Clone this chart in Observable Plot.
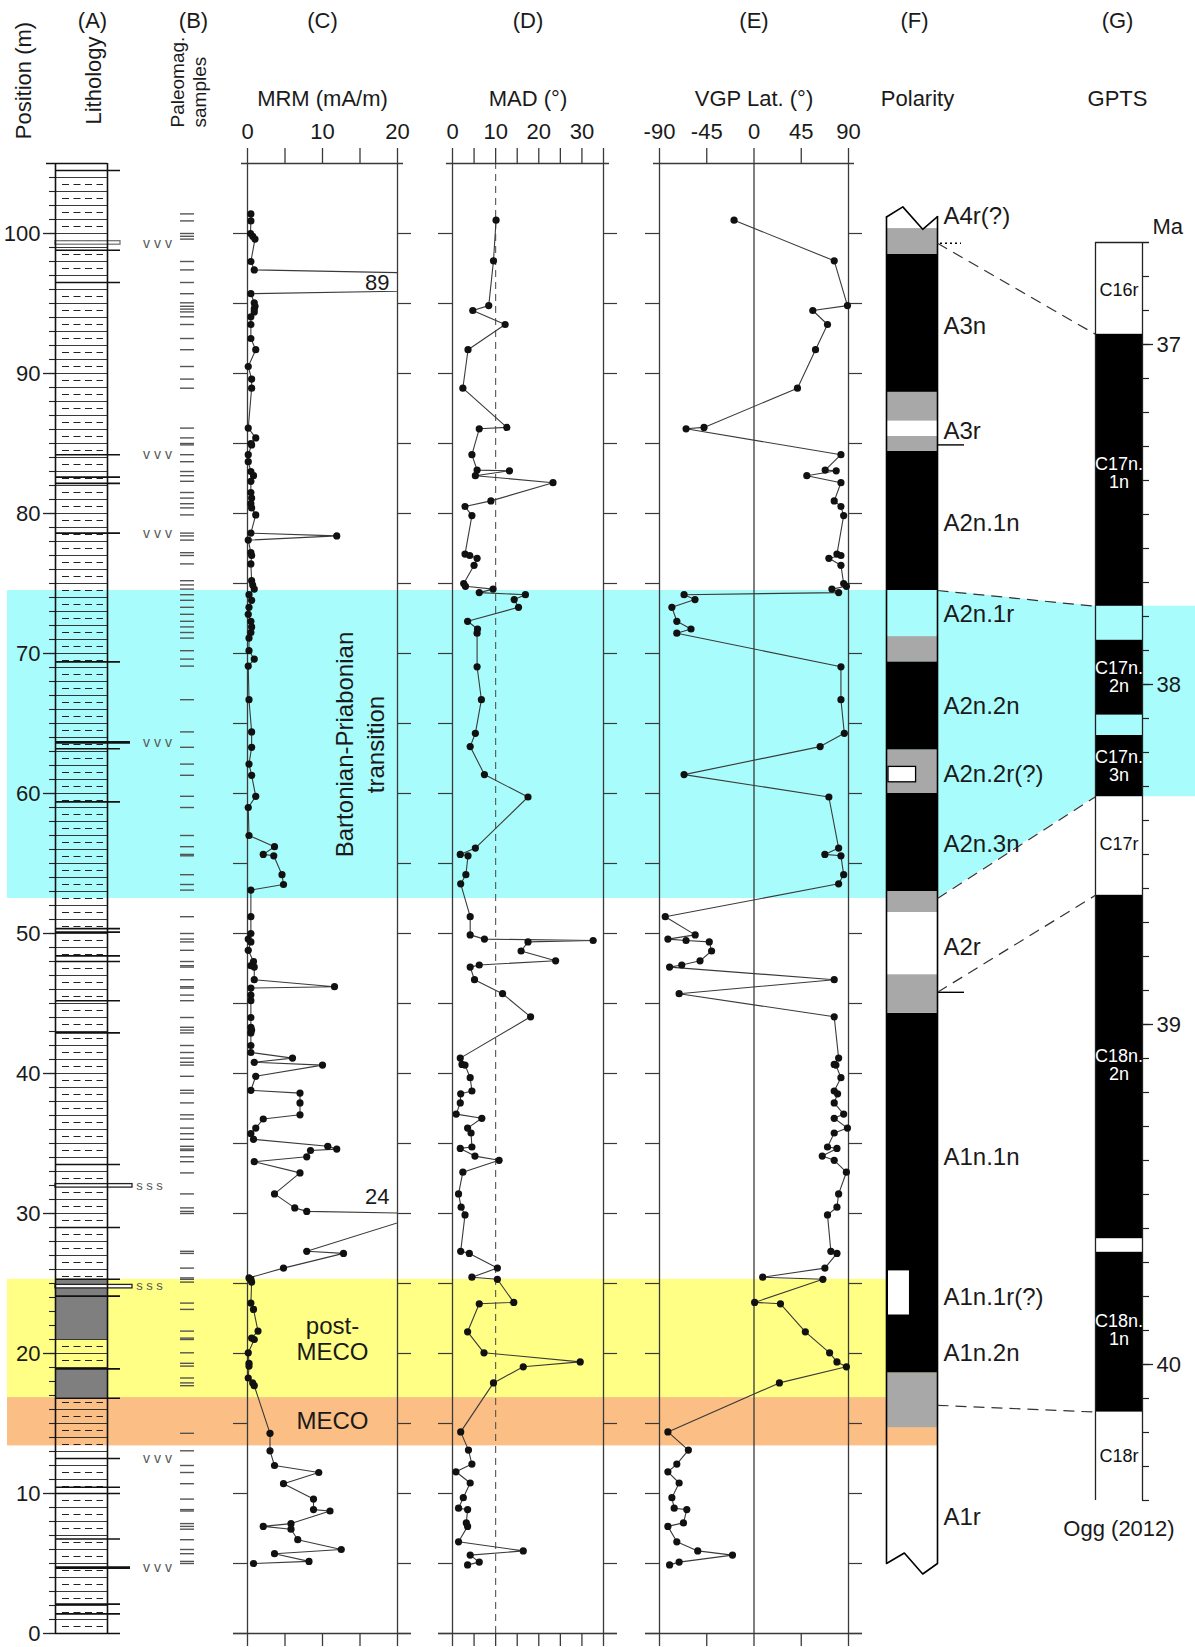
<!DOCTYPE html>
<html><head><meta charset="utf-8">
<script src="https://cdn.jsdelivr.net/npm/d3@7"></script>
<script src="https://cdn.jsdelivr.net/npm/@observablehq/plot@0.6"></script>
<style>
body{margin:0;background:#fff;}
#chart{position:relative;width:1195px;height:1647px;overflow:hidden;}
</style></head><body><div id="chart"></div>
<script>
// ---------------- DATA ----------------
// MRM (mA/m) by stratigraphic position (m)
const mrmDepth = [101.4,100.9,100.0,99.8,99.6,98.0,97.4,96.5,95.7,95.05,
94.8,94.6,94.4,94.05,93.5,92.5,91.7,90.5,89.6,88.95,
86.1,85.4,85.0,84.9,84.2,83.7,83.0,82.7,82.3,81.5,
81.1,80.7,80.4,79.9,78.6,78.4,78.1,77.2,77.0,76.4,
75.2,74.9,74.6,74.2,73.8,73.3,72.8,72.3,71.9,71.5,
71.1,70.2,69.6,69.1,66.7,64.4,63.3,62.1,61.3,59.8,
59.0,57.0,56.2,55.65,55.55,54.2,53.5,53.1,51.2,50.0,
49.6,49.4,48.8,48.0,47.7,47.6,46.7,46.2,46.1,45.6,
45.2,44.0,43.3,43.1,42.9,42.0,41.5,41.1,40.8,40.6,
39.8,38.8,38.6,37.9,37.05,36.75,36.1,35.7,35.3,34.8,
34.6,34.5,34.05,33.7,32.9,31.4,30.4,30.15,30.0,27.3,
27.15,26.1,25.4,25.3,25.1,23.6,23.15,21.6,21.1,21.0,
20.05,19.3,19.1,18.25,17.9,17.7,14.3,13.05,12.0,11.5,
10.7,9.6,8.85,8.75,7.85,7.65,7.45,6.7,6.0,5.7,
5.15,5.0];
const mrmValue = [0.45,0.45,0.4,0.7,1.0,0.45,0.9,89,0.45,0.9,
1.0,0.9,0.9,0.45,0.45,0.45,1.1,0.1,0.55,0.55,
0.1,1.1,0.45,0.55,0.1,0.1,0.45,0.8,0.45,0.45,
0.55,0.45,0.55,1.1,0.45,11.9,0.1,0.45,0.55,0.45,
0.55,0.7,0.9,0.2,0.55,0.2,0.1,0.45,0.55,0.45,
0.2,0.2,0.9,0.1,0.2,0.55,0.55,0.2,0.55,1.1,
0.1,0.2,3.6,2.1,3.5,4.6,4.8,0.45,0.45,0.45,
0.1,0.45,0.1,0.8,0.45,0.9,0.9,11.6,0.45,0.45,
0.45,0.45,0.45,0.55,0.45,0.45,0.45,6.0,0.9,10.0,
1.1,0.45,7.0,7.0,7.0,2.1,1.1,0.45,0.8,10.7,
11.9,8.4,7.9,0.9,7.0,3.6,6.3,7.9,24,7.9,
12.8,4.8,0.2,0.45,0.55,0.45,0.8,1.4,0.55,0.9,
0.1,0.2,0.2,0.1,0.7,0.9,3.0,3.0,3.6,9.5,
4.8,8.8,8.8,11.0,5.8,2.1,5.8,6.7,12.5,3.6,
8.2,0.8];

// Directional results: MAD (deg) and VGP latitude (deg)
const dirDepth = [100.95,98.05,94.85,94.5,93.5,91.7,88.95,86.15,86.05,84.2,
83.1,83.05,82.7,82.2,80.9,80.5,79.85,77.1,77.0,76.8,
76.3,75.0,74.8,74.6,74.35,74.2,73.85,73.3,72.3,71.75,
71.45,69.05,66.7,64.3,63.35,61.35,59.75,56.1,55.65,55.55,
54.2,53.55,51.2,49.9,49.6,49.5,49.4,48.75,48.05,47.75,
47.6,46.7,45.7,44.05,41.1,40.65,40.6,39.7,38.75,38.55,
37.9,37.1,36.8,36.1,35.75,34.75,34.65,34.1,33.8,32.95,
31.4,30.45,29.9,27.3,27.15,26.1,25.45,25.3,23.65,23.55,
21.55,20.05,19.4,19.05,17.9,14.4,13.1,12.1,11.55,10.75,
9.7,8.95,8.85,7.9,7.65,6.55,5.9,5.6,5.1,4.9];
const madValue = [10.1,9.5,8.4,4.7,12.2,3.6,2.4,12.6,6.2,4.5,
5.7,13.2,5.3,23.3,8.9,2.9,4.5,2.9,4.0,5.7,
5.0,2.6,3.0,9.4,6.2,16.9,14.3,15.3,3.5,5.8,
5.7,5.7,6.7,5.3,4.1,7.4,17.5,5.3,1.8,3.6,
3.1,1.9,4.1,4.1,7.4,32.6,17.5,15.9,23.9,6.2,
4.1,5.1,11.6,18.1,1.8,2.2,2.9,4.1,4.5,1.9,
1.8,0.85,6.8,3.5,4.3,4.5,1.8,5.2,10.8,2.4,
1.4,2.0,2.9,1.9,3.9,10.4,4.5,10.4,14.2,6.2,
3.5,7.3,29.6,16.4,9.5,1.9,3.7,4.5,0.8,4.1,
2.5,1.4,3.5,3.2,3.5,1.4,16.4,4.1,6.2,3.5];
const vgpValue = [-19,76.4,89,56,70,58.6,41.4,-47.6,-64.7,82.8,
67.8,78.3,50.3,82.8,76.4,82.8,85.4,79,82.8,71.3,
82.8,85.4,88,74.2,80.6,-66.6,-56.2,-78.2,-73.5,-60,
-73.5,82.8,82.8,86,63,-66.6,71.3,80.6,67.5,82.8,
85.4,80.6,-84.5,-56,-82,-64.7,-42.6,-40.4,-51.4,-68.8,
-80.4,76.4,-71.3,76.4,80.6,76.4,78,82.8,76.4,79.6,
76.4,85.4,76.4,89,76.4,70,79,65,76.4,88,
80.6,79,70,73.2,79,67.5,8.3,65.6,0.6,25.2,
48.9,72,79,88,24.2,-82,-62.5,-73.5,-82,-71.3,
-78.2,-76,-64,-67.2,-82,-73.5,-53.6,-20.5,-71.3,-80.4];

// Axis ticks
const posTicks = [0,10,20,30,40,50,60,70,80,90,100];
const mrmTicks = [0,5,10,15,20], mrmLabels = [0,10,20];
const madTicks = [0,5,10,15,20,25,30,35], madLabels = [0,10,20,30];
const vgpTicks = [-90,-45,0,45,90];
const maTicks = [37,38,39,40];

// Lithology
const bedLines = [104.5,98.8,96.5,84.2,82.6,82.15,78.6,69.4,63.2,59.4,50.35,50.1,48.4,48.0,45.2,42.9,33.5,29.0,25.3,24.1,18.9,16.8,12.5,10.45,10.0,6.75,2.1,1.4];
const thickBeds = [63.65,4.7];
const doubleBedTop = [99.45,32.1,24.9];
const doubleBedBase = [99.2,31.85,24.65];
const grayBedTop = [25.3,18.9];
const grayBedBase = [21.0,16.8];
const vvvDepth = [99.3,84.2,78.6,63.65,12.5,4.7];
const sssDepth = [32.0,24.8];

// Intervals (bands)
const bandName = ["Bartonian-Priabonian\ntransition","post-\nMECO","MECO"];
const bandTopM = [74.5,25.3,16.85];
const bandBaseM = [52.5,16.85,13.4];
const bptMa = [37.77,38.33];

// Polarity zones
const polTop  = [100.35,98.5,88.65,86.6,85.5,84.45,74.5,71.2,69.4,63.1,60.0,53.0,51.5,47.05,44.3,18.6,14.7];
const polBase = [98.5,88.65,86.6,85.5,84.45,74.5,71.2,69.4,63.1,60.0,53.0,51.5,47.05,44.3,18.6,14.7,5.0];
const polState = ["?","N","?","R","?","N","R","?","N","?","N","?","R","?","N","?","R"];
const polBoxTop = [61.9,25.9], polBoxBase = [60.8,22.75];
const polName = ["A4r(?)","A3n","A3r","A2n.1n","A2n.1r","A2n.2n","A2n.2r(?)","A2n.3n","A2r","A1n.1n","A1n.1r(?)","A1n.2n","A1r"];
const polNameM = [101.2,93.4,85.9,79.3,72.8,66.2,61.4,56.4,49.0,34.0,24.0,20.0,8.3];
const polMarkM = [84.9,45.8];
const polDottedM = [99.3];
const breakTopF = [0,0.32,0.71,1], breakTopM = [101.18,101.9,100.3,101.2];
const breakBotF = [0,0.35,0.71,1], breakBotM = [5.0,5.75,4.25,5.0];

// GPTS (Ogg 2012)
const chronName = ["C16r","C17n.\n1n","","C17n.\n2n","","C17n.\n3n","C17r","C18n.\n2n","","C18n.\n1n","C18r"];
const chronTop  = [36.7,36.97,37.77,37.87,38.09,38.15,38.33,38.62,39.63,39.67,40.14];
const chronBase = [36.97,37.77,37.87,38.09,38.15,38.33,38.62,39.63,39.67,40.14,40.4];
const chronNormal = [false,true,false,true,false,true,false,true,false,true,false];
const chronLabelMa = [36.84,37.38,null,37.98,null,38.24,38.47,39.12,null,39.9,40.27];

// Correlation section -> GPTS
const corrM = [99.3,74.5,52.5,45.8,16.3];
const corrMa = [36.97,37.77,38.33,38.62,40.14];

// ---------------- LAYOUT ----------------
const W = 1195, H = 1647;
const Y0 = 1633, PPM = 14, TOP = 105;
const MT = Y0 - TOP * PPM, MB = H - Y0;
const yM = d3.scaleLinear([0, TOP], [Y0, MT]);
const pxM = px => yM.invert(px);
const MA_Y = [242, 1500];
const yMa = d3.scaleLinear([36.7, 40.4], MA_Y);
const maToM = ma => yM.invert(yMa(ma));
const LIT_X = [55, 107], POL_X = [886, 937], GPTS_X = [1095, 1142], BAND_LEFT = 7;
const FONT = '"Liberation Sans", Arial, Helvetica, sans-serif';
const NARROW = '"Liberation Sans Narrow", "Liberation Sans", Arial, sans-serif';
const LINE = "#3a3a3a";
const CYAN = "#a9fcfc", YELLOW = "#ffff85", ORANGE = "#fbbe84", PGRAY = "#a8a8a8", LGRAY = "#7f7f7f";
const HDR_Y = 20, TITLE_Y = 98, TLAB_Y = 131;

const mrm = mrmDepth.map((m, i) => ({m, v: mrmValue[i]}));
const dir = dirDepth.map((m, i) => ({m, mad: madValue[i], vgp: vgpValue[i]}));

function makePlot({xDomain = [0, W], xRange = [0, W], yDomain = [0, TOP], mt = MT, mb = MB, reverse = false, marks}) {
  return Plot.plot({
    width: W, height: H,
    marginLeft: xRange[0], marginRight: W - xRange[1], marginTop: mt, marginBottom: mb,
    x: {domain: xDomain, axis: null},
    y: {domain: yDomain, axis: null, reverse},
    style: `background:transparent;overflow:visible;font-family:${FONT};font-size:22px;color:#1a1a1a;position:absolute;left:0;top:0;`,
    marks
  });
}

function dataPanel({xDomain, xRange, ticks, labels, title, letter, data, xKey, clipData = false, extra = []}) {
  const k = (xDomain[1] - xDomain[0]) / (xRange[1] - xRange[0]);
  const mid = (xDomain[0] + xDomain[1]) / 2;
  const sides = d3.range(0, 101, 5);
  return makePlot({xDomain, xRange, marks: [
    ...extra,
    Plot.ruleX(xDomain, {y1: 0, y2: TOP, stroke: LINE, strokeWidth: 1.3}),
    Plot.ruleY([TOP], {x1: xDomain[0] - 6 * k, x2: xDomain[1] + 6 * k, stroke: LINE, strokeWidth: 1.3}),
    Plot.ruleY([0], {x1: xDomain[0] - 14 * k, x2: xDomain[1] + 14 * k, stroke: LINE, strokeWidth: 1.3}),
    Plot.ruleX(ticks, {y1: TOP, y2: TOP + 15 / PPM, stroke: LINE, strokeWidth: 1.3}),
    Plot.ruleX(ticks, {y1: 0, y2: -13 / PPM, stroke: LINE, strokeWidth: 1.3}),
    Plot.ruleY(sides, {x1: xDomain[0] - 14 * k, x2: xDomain[0], stroke: LINE, strokeWidth: 1.2}),
    Plot.ruleY(sides, {x1: xDomain[1], x2: xDomain[1] + 14 * k, stroke: LINE, strokeWidth: 1.2}),
    Plot.text(labels, {x: d => d, y: TOP, dy: -(MT - TLAB_Y), text: d => String(d)}),
    Plot.text([title], {x: mid, y: TOP, dy: -(MT - TITLE_Y)}),
    Plot.text([letter], {x: mid, y: TOP, dy: -(MT - HDR_Y)}),
    Plot.line(data, {x: xKey, y: "m", stroke: LINE, strokeWidth: 1.1, clip: clipData}),
    Plot.dot(data.filter(d => d[xKey] <= xDomain[1]), {x: xKey, y: "m", r: 3.6, fill: "#111", stroke: "none"})
  ]});
}

// ---------------- BANDS (background) ----------------
const cyanPoly = [
  {x: BAND_LEFT, y1: bandTopM[0], y2: bandBaseM[0]},
  {x: POL_X[1], y1: bandTopM[0], y2: bandBaseM[0]},
  {x: GPTS_X[0], y1: maToM(bptMa[0]), y2: maToM(bptMa[1])},
  {x: W, y1: maToM(bptMa[0]), y2: maToM(bptMa[1])}
];
const bands = bandName.map((name, i) => ({name, top: bandTopM[i], base: bandBaseM[i], mid: (bandTopM[i] + bandBaseM[i]) / 2}));
const bandsPlot = makePlot({marks: [
  Plot.areaY(cyanPoly, {x: "x", y1: "y1", y2: "y2", fill: CYAN}),
  Plot.rect([bands[1]], {x1: BAND_LEFT, x2: POL_X[1], y1: "base", y2: "top", fill: YELLOW}),
  Plot.rect([bands[2]], {x1: BAND_LEFT, x2: POL_X[1], y1: "base", y2: "top", fill: ORANGE}),
  Plot.text([bands[0]], {x: 358, y: "mid", text: "name", rotate: -90, fontSize: 24, lineHeight: 1.3}),
  Plot.text([bands[1]], {x: 332, y: "mid", text: "name", fontSize: 24, lineHeight: 1.12}),
  Plot.text([bands[2]], {x: 332, y: "mid", text: "name", fontSize: 24})
]});

// ---------------- LITHOLOGY, AXIS, SAMPLES ----------------
const doubleBeds = doubleBedTop.map((t, i) => ({top: t, base: doubleBedBase[i]}));
const grayBeds = grayBedTop.map((t, i) => ({top: t, base: grayBedBase[i]}));
const lithoPlot = makePlot({marks: [
  Plot.ruleY(d3.range(1, TOP, 1), {x1: LIT_X[0], x2: LIT_X[1], stroke: "#222", strokeWidth: 0.9}),
  Plot.ruleY(d3.range(0.5, TOP, 1), {x1: LIT_X[0] + 7, x2: LIT_X[1] - 4, stroke: "#222", strokeWidth: 1.1, strokeDasharray: "7,4.5"}),
  Plot.rect(grayBeds, {x1: LIT_X[0], x2: LIT_X[1], y1: "base", y2: "top", fill: LGRAY}),
  Plot.ruleY(bedLines, {x1: LIT_X[0], x2: 120, stroke: "#111", strokeWidth: 1.6}),
  Plot.ruleY(thickBeds, {x1: LIT_X[0], x2: 130, stroke: "#111", strokeWidth: 2.8}),
  Plot.rect([doubleBeds[0]], {x1: LIT_X[0], x2: 120, y1: "base", y2: "top", fill: "white", stroke: "#777", strokeWidth: 1.3}),
  Plot.rect(doubleBeds.slice(1), {x1: LIT_X[0], x2: 132, y1: "base", y2: "top", fill: "white", stroke: "#222", strokeWidth: 1.3}),
  Plot.ruleX(LIT_X, {y1: 0, y2: TOP, stroke: "#111", strokeWidth: 1.6}),
  Plot.ruleY([TOP], {x1: 46, x2: LIT_X[1], stroke: "#111", strokeWidth: 1.4}),
  Plot.ruleY([0], {x1: LIT_X[0], x2: 120, stroke: "#111", strokeWidth: 1.4}),
  Plot.ruleY(d3.range(0, TOP, 1), {x1: 49, x2: LIT_X[0], stroke: "#222", strokeWidth: 1.1}),
  Plot.ruleY(posTicks, {x1: 43, x2: LIT_X[0], stroke: "#222", strokeWidth: 1.3}),
  Plot.text(posTicks, {x: 40, y: d => d, text: d => String(d), textAnchor: "end"}),
  Plot.text(vvvDepth, {x: 157, y: d => d, text: () => "v v v", fontSize: 14, fill: "#555"}),
  Plot.text(sssDepth, {x: 149, y: d => d, text: () => "s s s", fontSize: 13, fill: "#555"}),
  Plot.ruleY(mrmDepth, {x1: 180, x2: 194, stroke: "#555", strokeWidth: 1.4}),
  Plot.text(["Position (m)"], {x: 23, y: pxM(80), rotate: -90}),
  Plot.text(["Lithology"], {x: 93, y: pxM(80), rotate: -90}),
  Plot.text(["Paleomag."], {x: 177, y: pxM(127), rotate: -90, textAnchor: "start", fontSize: 19}),
  Plot.text(["samples"], {x: 199, y: pxM(127), rotate: -90, textAnchor: "start", fontSize: 19}),
  Plot.text(["(A)"], {x: 92, y: pxM(HDR_Y)}),
  Plot.text(["(B)"], {x: 193, y: pxM(HDR_Y)})
]});

// ---------------- DATA PANELS ----------------
const offShift = {89: 0, 24: 17};
const panelMRM = dataPanel({
  xDomain: [0, 20], xRange: [247, 397], ticks: mrmTicks, labels: mrmLabels,
  title: "MRM (mA/m)", letter: "(C)", data: mrm, xKey: "v", clipData: true,
  extra: [Plot.text(mrm.filter(d => d.v > 20), {x: 20, y: d => d.m + (offShift[d.v] || 0) / PPM, dx: -8, text: d => String(d.v), textAnchor: "end"})]
});
const panelMAD = dataPanel({
  xDomain: [0, 35], xRange: [452, 603], ticks: madTicks, labels: madLabels,
  title: "MAD (°)", letter: "(D)", data: dir, xKey: "mad",
  extra: [Plot.ruleX([10], {y1: 0, y2: TOP, stroke: "#555", strokeDasharray: "7,5", strokeWidth: 1.1})]
});
const panelVGP = dataPanel({
  xDomain: [-90, 90], xRange: [659, 848], ticks: vgpTicks, labels: vgpTicks,
  title: "VGP Lat. (°)", letter: "(E)", data: dir, xKey: "vgp",
  extra: [Plot.ruleX([0], {y1: 0, y2: TOP, stroke: LINE, strokeWidth: 1.3})]
});

// ---------------- POLARITY ----------------
const polZones = polTop.map((t, i) => ({top: t, base: polBase[i], s: polState[i]}));
const polW = POL_X[1] - POL_X[0];
const polBoxes = polBoxTop.map((t, i) => ({top: t, base: polBoxBase[i]}));
const breakTop = breakTopF.map((f, i) => ({x: POL_X[0] + f * polW, y: breakTopM[i]}));
const breakBot = breakBotF.map((f, i) => ({x: POL_X[0] + f * polW, y: breakBotM[i]}));
const polLabels = polName.map((name, i) => ({name, m: polNameM[i]}));
const corr = corrM.map((m, i) => ({m, ma: corrMa[i]}));
const polPlot = makePlot({marks: [
  Plot.rect(polZones.filter(d => d.s === "N"), {x1: POL_X[0], x2: POL_X[1], y1: "base", y2: "top", fill: "#000"}),
  Plot.rect(polZones.filter(d => d.s === "?"), {x1: POL_X[0], x2: POL_X[1], y1: "base", y2: "top", fill: PGRAY}),
  Plot.rect([polBoxes[0]], {x1: POL_X[0] + 2, x2: POL_X[0] + 0.58 * polW, y1: "base", y2: "top", fill: "white", stroke: "#000", strokeWidth: 1.3}),
  Plot.rect([polBoxes[1]], {x1: POL_X[0] + 2, x2: POL_X[0] + 0.45 * polW, y1: "base", y2: "top", fill: "white"}),
  Plot.ruleX([POL_X[0]], {y1: breakBotM[0], y2: breakTopM[0], stroke: "#000", strokeWidth: 1.6}),
  Plot.ruleX([POL_X[1]], {y1: breakBotM[3], y2: breakTopM[3], stroke: "#000", strokeWidth: 1.6}),
  Plot.line(breakTop, {x: "x", y: "y", stroke: "#000", strokeWidth: 1.6}),
  Plot.line(breakBot, {x: "x", y: "y", stroke: "#000", strokeWidth: 1.6}),
  Plot.ruleY(polMarkM, {x1: POL_X[1], x2: POL_X[1] + 27, stroke: "#000", strokeWidth: 1.4}),
  Plot.ruleY(polDottedM, {x1: POL_X[1] + 3, x2: POL_X[1] + 24, stroke: "#000", strokeWidth: 1.6, strokeDasharray: "2,3"}),
  Plot.link(corr, {x1: POL_X[1], x2: GPTS_X[0], y1: "m", y2: d => maToM(d.ma), stroke: "#333", strokeWidth: 1.2, strokeDasharray: "11,7"}),
  Plot.text(polLabels, {x: POL_X[1] + 6, y: "m", text: "name", textAnchor: "start", fontSize: 24}),
  Plot.text(["Polarity"], {x: 917, y: pxM(TITLE_Y)}),
  Plot.text(["(F)"], {x: 914, y: pxM(HDR_Y)})
]});

// ---------------- GPTS ----------------
const chrons = chronTop.map((t, i) => ({top: t, base: chronBase[i], n: chronNormal[i], name: chronName[i], lab: chronLabelMa[i]}));
const gx = (GPTS_X[0] + GPTS_X[1]) / 2;
const gptsPlot = makePlot({yDomain: [36.7, 40.4], mt: MA_Y[0], mb: H - MA_Y[1], reverse: true, marks: [
  Plot.rect(chrons.filter(d => d.n), {x1: GPTS_X[0], x2: GPTS_X[1], y1: "top", y2: "base", fill: "#000"}),
  Plot.ruleX(GPTS_X, {y1: 36.7, y2: 40.4, stroke: "#222", strokeWidth: 1.3}),
  Plot.ruleY([36.7], {x1: GPTS_X[0], x2: GPTS_X[1] + 7, stroke: "#222", strokeWidth: 1.3}),
  Plot.ruleY(d3.range(36.8, 40.45, 0.1), {x1: GPTS_X[1], x2: GPTS_X[1] + 7, stroke: "#222", strokeWidth: 1.2}),
  Plot.ruleY(maTicks, {x1: GPTS_X[1], x2: GPTS_X[1] + 11, stroke: "#222", strokeWidth: 1.3}),
  Plot.text(maTicks, {x: GPTS_X[1] + 14, y: d => d, text: d => String(d), textAnchor: "start"}),
  Plot.text(chrons.filter(d => d.name && d.n), {x: gx, y: "lab", text: "name", fill: "white", fontFamily: NARROW, fontSize: 18, lineHeight: 1.0}),
  Plot.text(chrons.filter(d => d.name && !d.n), {x: gx, y: "lab", text: "name", fill: "#111", fontFamily: NARROW, fontSize: 18, lineHeight: 1.0}),
  Plot.text(["Ma"], {x: GPTS_X[1] + 10, y: 36.7, dy: -16, textAnchor: "start"}),
  Plot.text(["Ogg (2012)"], {x: gx, y: 40.4, dy: 28}),
  Plot.text(["GPTS"], {x: 1117, y: yMa.invert(TITLE_Y)}),
  Plot.text(["(G)"], {x: 1117, y: yMa.invert(HDR_Y)})
]});

const chart = document.getElementById("chart");
[bandsPlot, lithoPlot, panelMRM, panelMAD, panelVGP, polPlot, gptsPlot].forEach(p => chart.appendChild(p));
</script>
</body></html>
